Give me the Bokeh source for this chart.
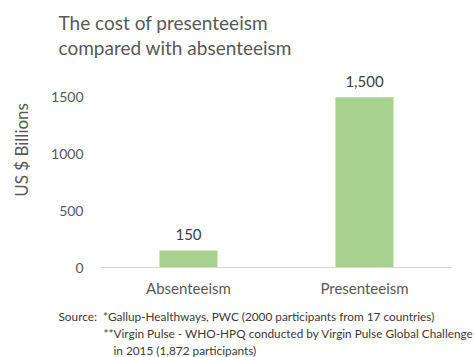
from bokeh.plotting import figure
from bokeh.models import ColumnDataSource, FactorRange, Range1d, FixedTicker, LabelSet, Title
from bokeh.core.properties import value
from bokeh.embed import file_html
from bokeh.resources import INLINE

categories = ["Absenteeism", "Presenteeism"]
values = [150, 1500]
y_ticks = [0, 500, 1000, 1500]
title_lines = ["The cost of presenteeism", "compared with absenteeism"]
y_label = "US $ Billions"
source_lines = [
    "Source:\u00a0 *Gallup-Healthways, PWC (2000 participants from 17 countries)",
    "**Virgin Pulse - WHO-HPQ conducted by Virgin Pulse Global Challenge",
    "in 2015 (1,872 participants)",
]

FONT = "Lato"
W, H = 474, 357
FL, FB, FT, FR = 100, 268, 58, 452  # frame edges on canvas

src = ColumnDataSource(dict(cat=categories, val=values,
                            lab=[f"{v:,}" for v in values]))

p = figure(width=W, height=H, x_range=FactorRange(*categories, range_padding=0),
           y_range=Range1d(0, (FB - FT) / 57 * 500),
           output_backend="svg", toolbar_location=None,
           min_border_left=FL, min_border_right=W - FR,
           min_border_top=FT, min_border_bottom=H - FB)
p.outline_line_color = None
p.grid.grid_line_color = None
p.background_fill_color = "white"
p.border_fill_color = "white"

p.vbar(x="cat", top="val", width=0.33, source=src, fill_color="#a9d18e", line_color=None)

labels = LabelSet(x="cat", y="val", text="lab", source=src, text_align="center",
                  text_baseline="bottom", y_offset=10, text_font=value(FONT),
                  text_font_size="15px", text_color="#404040")
p.add_layout(labels)

# axes
p.xaxis.axis_line_color = "#d9d9d9"
p.xaxis.major_tick_line_color = None
p.xaxis.minor_tick_line_color = None
p.xaxis.major_tick_out = 0
p.xaxis.major_tick_in = 0
p.xaxis.minor_tick_out = 0
p.xaxis.major_label_standoff = 11
p.xaxis.major_label_text_font = FONT
p.xaxis.major_label_text_font_size = "15px"
p.xaxis.major_label_text_color = "#595959"

p.yaxis.ticker = FixedTicker(ticks=y_ticks)
p.yaxis.axis_line_color = None
p.yaxis.major_tick_line_color = None
p.yaxis.minor_tick_line_color = None
p.yaxis.major_tick_out = 0
p.yaxis.major_tick_in = 0
p.yaxis.minor_tick_out = 0
p.yaxis.major_label_standoff = 17
p.yaxis.major_label_text_font = FONT
p.yaxis.major_label_text_font_size = "14px"
p.yaxis.major_label_text_color = "#595959"
p.yaxis.axis_label = "\u00a0" * 6 + y_label
p.yaxis.axis_label_standoff = 16
p.yaxis.axis_label_text_font = FONT
p.yaxis.axis_label_text_font_size = "17px"
p.yaxis.axis_label_text_font_style = "normal"
p.yaxis.axis_label_text_color = "#595959"

# blank spacer row to open a gap between the axis and the notes
p.add_layout(Title(text="\u00a0", standoff=4, text_font=FONT, text_font_size="1px",
                   text_color="white"), "below")

# title lines (added nearest-first)
for t in reversed(title_lines):
    p.add_layout(Title(text=t, align="left", offset=58 - FL, standoff=0,
                       text_font=FONT, text_font_size="19px",
                       text_font_style="normal", text_color="#595959"), "above")

# source notes
for t, x in zip(source_lines, [58, 103, 113]):
    p.add_layout(Title(text=t, align="left", offset=x - FL, standoff=0,
                       text_font=FONT, text_font_size="11.8px",
                       text_font_style="normal", text_color="#3a3a3a"), "below")

open("out.html", "w").write(file_html(p, INLINE))
